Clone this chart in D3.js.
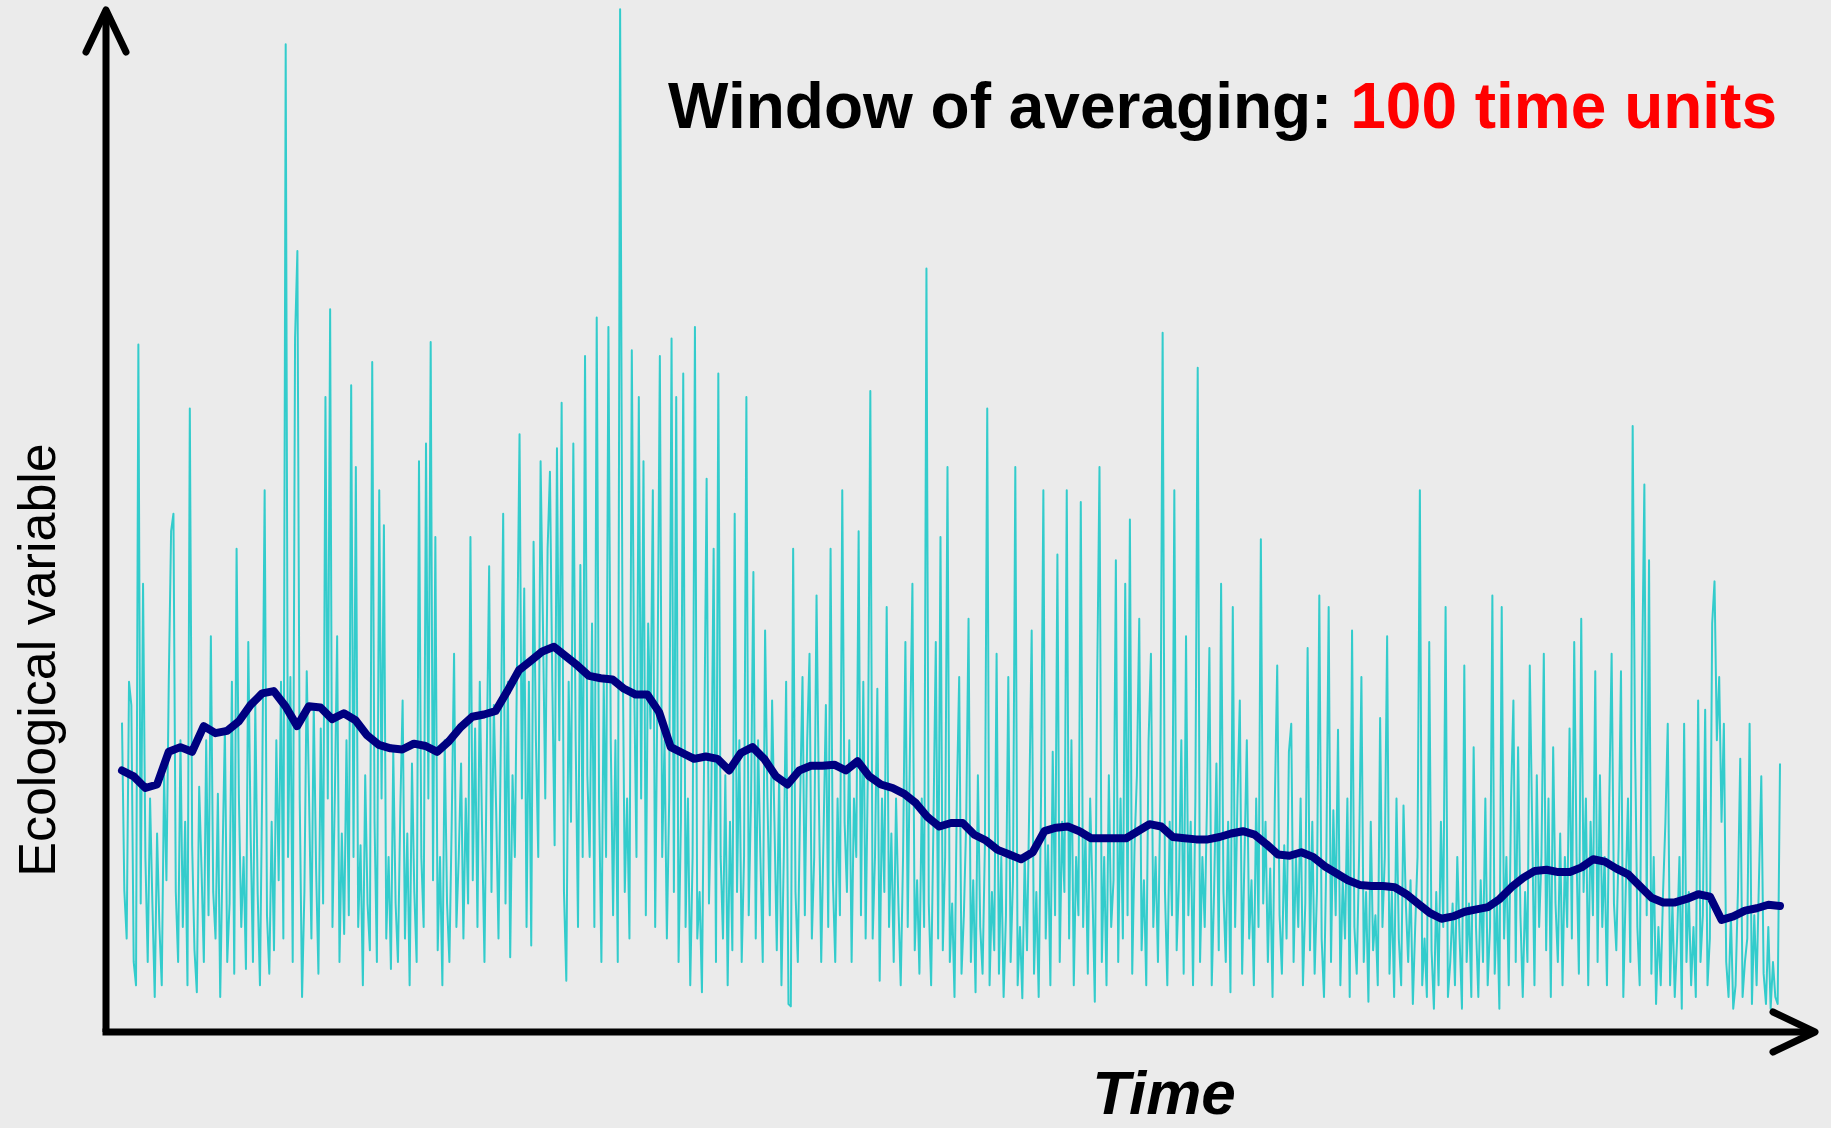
<!DOCTYPE html>
<html>
<head>
<meta charset="utf-8">
<script src="https://cdn.jsdelivr.net/npm/d3@7"></script>
<style>
  html, body { margin: 0; padding: 0; background: #ebebeb; }
  svg { display: block; }
</style>
</head>
<body>
<div id="chart"></div>
<script>
// raw series (ecological variable, arbitrary units), one value per time step
const rawValues = [
  265,121,80,300,280,60,40,589,110,384,
  150,60,200,110,30,170,90,40,220,130,
  300,429,444,120,60,250,90,180,40,534,
  160,70,34,210,140,60,250,100,339,120,
  80,204,30,150,260,60,110,300,50,414,
  200,90,150,54,334,170,60,280,120,40,
  220,464,100,50,180,70,250,130,300,80,
  846,150,304,60,594,669,200,30,120,309,
  200,80,280,140,50,260,110,544,200,619,
  90,200,339,60,170,84,250,100,554,150,
  484,90,160,40,220,110,70,574,180,60,
  464,200,434,80,150,54,240,110,60,190,
  284,80,170,40,230,120,60,489,150,90,
  504,200,591,130,424,70,150,40,250,110,
  60,180,324,90,150,230,80,200,110,424,
  130,260,90,300,170,60,240,399,120,280,
  190,80,250,444,110,300,64,220,150,330,
  512,200,380,90,300,74,420,250,150,489,
  350,200,414,480,300,160,500,250,539,120,
  44,300,180,504,250,90,400,150,579,220,
  150,350,90,612,200,60,300,150,604,250,
  100,250,60,876,350,120,200,80,584,300,
  150,544,200,489,100,350,260,464,90,300,
  579,150,250,80,200,594,120,544,60,180,
  564,90,200,40,150,604,80,120,34,250,
  474,110,200,414,60,564,150,80,220,40,
  180,70,444,120,250,60,150,544,100,200,
  394,80,250,150,60,344,200,100,284,180,
  70,220,40,150,300,24,22,414,120,60,
  200,304,100,250,324,80,150,374,200,60,
  170,280,90,414,130,60,200,100,464,180,
  120,250,60,200,150,429,100,300,80,230,
  549,80,150,294,44,200,120,364,90,170,
  60,200,110,40,150,334,90,250,384,70,
  130,50,200,90,654,110,40,180,334,80,
  424,70,150,484,60,110,30,200,304,50,
  100,180,354,60,130,34,220,90,50,160,
  534,40,120,70,324,50,150,30,100,304,
  60,130,484,40,90,29,150,70,200,344,
  50,120,30,200,464,80,160,40,240,100,
  409,60,180,120,464,80,250,40,150,100,
  454,90,170,50,200,120,26,300,484,60,
  150,40,220,90,130,404,60,200,80,384,
  100,439,50,160,220,354,70,130,40,250,
  324,90,150,60,200,599,120,40,180,100,
  464,70,130,250,50,339,100,180,40,200,
  569,60,150,90,200,329,40,120,230,70,
  384,120,60,180,34,364,90,200,284,50,
  150,250,80,130,40,200,90,422,110,180,
  60,140,30,200,314,100,50,160,80,240,
  264,60,150,90,200,40,110,329,70,180,
  50,120,374,80,30,150,364,60,190,100,
  259,40,130,80,200,30,344,90,50,150,
  304,60,120,26,180,70,100,40,269,90,
  150,339,50,120,30,200,80,40,194,110,
  60,130,24,90,150,464,40,80,30,334,
  70,20,120,40,180,90,364,30,60,110,
  40,150,80,20,314,60,110,30,244,90,
  30,130,60,200,40,90,374,50,110,20,
  364,80,150,40,200,284,60,244,100,30,
  120,60,314,180,40,220,90,150,324,70,
  200,30,244,110,60,170,40,150,90,260,
  80,334,150,50,354,120,200,40,180,100,
  309,60,220,90,150,40,200,324,110,70,
  160,309,30,120,200,60,519,250,90,40,
  300,469,100,404,50,150,24,90,40,120,
  180,264,40,110,30,80,150,20,264,60,
  120,40,90,30,284,60,100,276,40,80,
  350,386,250,304,180,264,60,30,100,20,
  40,120,234,30,60,80,264,24,100,40,
  130,219,50,24,90,20,60,30,24,230
];

// moving average over a 100 time-unit window, read at even steps along the series
const smoothValues = [
  224,219,209,212,240,244,240,262,256,258,
  266,280,290,292,279,262,279,278,268,273,
  267,254,246,243,242,247,245,240,249,261,
  270,272,275,292,310,318,326,330,322,314,
  305,303,302,294,289,289,274,244,239,234,
  236,234,224,239,244,234,219,212,224,228,
  228,229,224,232,219,212,209,204,196,184,
  176,179,179,169,164,156,152,148,154,172,
  175,176,172,166,166,166,166,172,178,176,
  167,166,165,165,167,170,172,169,161,152,
  151,154,150,142,136,130,126,125,125,124,
  118,110,102,97,99,103,105,107,114,124,
  132,138,139,137,137,141,148,146,140,135,
  125,115,111,111,114,118,116,96,99,104,
  106,109,108
];

const titleBlack = "Window of averaging: ";
const titleRed = "100 time units";
const xLabel = "Time";
const yLabel = "Ecological variable";

const width = 1831;
const height = 1128;

const axisX = 106;      // y axis position
const axisY = 1032;     // x axis position

const svg = d3.select("#chart")
    .append("svg")
    .attr("width", width)
    .attr("height", height);

svg.append("rect")
    .attr("width", width)
    .attr("height", height)
    .attr("fill", "#ebebeb");

const x = d3.scaleLinear()
    .domain([0, rawValues.length - 1])
    .range([122, 1780]);

const y = d3.scaleLinear()
    .domain([0, 884])
    .range([axisY, 0]);

// smoothed points sit on the same time axis as the raw series
const smoothStep = (rawValues.length - 1) / (smoothValues.length - 1);

const line = d3.line()
    .x(d => x(d[0]))
    .y(d => y(d[1]));

svg.append("path")
    .datum(rawValues.map((v, i) => [i, v]))
    .attr("d", line)
    .attr("fill", "none")
    .attr("stroke", "#33cccc")
    .attr("stroke-width", 2)
    .attr("stroke-linejoin", "round");

svg.append("path")
    .datum(smoothValues.map((v, j) => [j * smoothStep, v]))
    .attr("d", line)
    .attr("fill", "none")
    .attr("stroke", "#000080")
    .attr("stroke-width", 8)
    .attr("stroke-linejoin", "round")
    .attr("stroke-linecap", "round");

// axes drawn as arrows
const axes = svg.append("g")
    .attr("fill", "none")
    .attr("stroke", "#000")
    .attr("stroke-width", 7)
    .attr("stroke-linecap", "round")
    .attr("stroke-linejoin", "round");

axes.append("path")
    .attr("d", `M ${axisX},${axisY} L ${axisX},10`)
    .attr("stroke-linecap", "butt");
axes.append("path")
    .attr("d", `M ${axisX - 20},52 L ${axisX},10 L ${axisX + 20},52`);

axes.append("path")
    .attr("d", `M ${axisX - 3.5},${axisY} L 1815,${axisY}`)
    .attr("stroke-linecap", "butt");
axes.append("path")
    .attr("d", `M 1773,${axisY - 20} L 1815,${axisY} L 1773,${axisY + 20}`);

// title
const title = svg.append("text")
    .attr("x", 1777)
    .attr("y", 128)
    .attr("text-anchor", "end")
    .attr("font-family", "Liberation Sans, Arial, sans-serif")
    .attr("font-weight", "bold")
    .attr("font-size", "64px");
title.append("tspan").attr("fill", "#000").text(titleBlack);
title.append("tspan").attr("fill", "#ff0000").text(titleRed);

// axis labels
svg.append("text")
    .attr("x", 1164)
    .attr("y", 1114)
    .attr("text-anchor", "middle")
    .attr("font-family", "Liberation Sans, Arial, sans-serif")
    .attr("font-weight", "bold")
    .attr("font-style", "italic")
    .attr("font-size", "62px")
    .attr("fill", "#000")
    .text(xLabel);

svg.append("text")
    .attr("transform", "translate(55,660) rotate(-90)")
    .attr("text-anchor", "middle")
    .attr("font-family", "Liberation Sans, Arial, sans-serif")
    .attr("font-size", "52px")
    .attr("fill", "#000")
    .text(yLabel);
</script>
</body>
</html>
